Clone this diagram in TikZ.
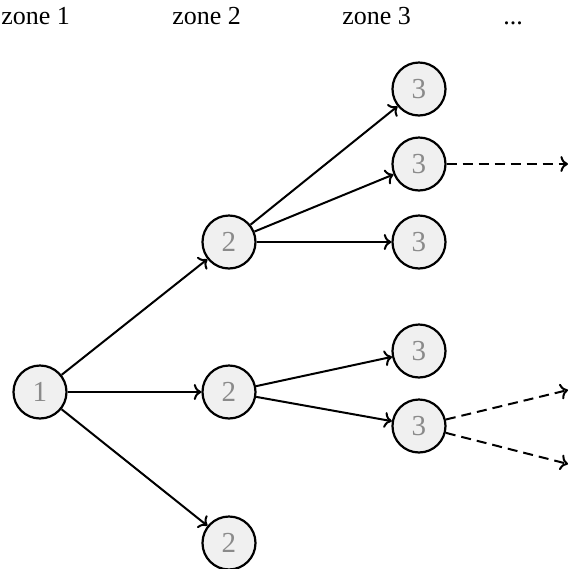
\documentclass[tikz,border=0pt]{standalone}
\usepackage{fontspec}
\setmainfont{Liberation Serif}
\usetikzlibrary{arrows.meta, positioning}

\definecolor{cellfill}{HTML}{F0F0F0}
\definecolor{celltext}{HTML}{8A8A8A}

\begin{document}
\begin{tikzpicture}[x=0.5pt, y=-0.5pt,
    on grid,
    >={To},
    every edge/.style={draw, line width=1pt},
    cell/.style={circle, draw, line width=1.1pt, fill=cellfill, text=celltext,
        minimum size=26.5pt, inner sep=0pt, font=\fontsize{14.5}{16}\selectfont},
    zonelabel/.style={anchor=base west, inner sep=0pt, font=\fontsize{13}{15}\selectfont}]

    \useasboundingbox (0,0) rectangle (580,569);

    % column headings
    \node[zonelabel] (h_1) at (1,24)   {zone 1};
    \node[zonelabel] (h_2) at (172,24) {zone 2};
    \node[zonelabel] (h_3) at (342,24) {zone 3};
    \node[zonelabel] (h_4) at (503,24) {...};

    \node[cell]  (z_1)                               at (40,392) {1};

    \node[cell]  (z_2a) [above right=75pt and 94.5pt of z_1]  {2};
    \node[cell]  (z_2b) [right=94.5pt of z_1]                 {2};
    \node[cell]  (z_2c) [below right=75.5pt and 94.5pt of z_1] {2};

    \node[cell]  (z_3a) [above right=76.5pt and 95pt of z_2a] {3};
    \node[cell]  (z_3b) [above right=39pt and 95pt of z_2a]   {3};
    \node[cell]  (z_3c) [right=95pt of z_2a]                  {3};
    \node[cell]  (z_3d) [above right=20.5pt and 95pt of z_2b] {3};
    \node[cell]  (z_3e) [below right=17pt and 95pt of z_2b]   {3};

    % loose ends of the dashed arrows
    \node[coordinate] (o_1) [right=74.5pt of z_3b] {};
    \node[coordinate] (o_2) [above right=18pt and 74.5pt of z_3e] {};
    \node[coordinate] (o_3) [below right=19pt and 74.5pt of z_3e] {};

    \path[->]
    (z_1)  edge (z_2a)
    (z_1)  edge (z_2b)
    (z_1)  edge (z_2c)
    (z_2a) edge (z_3a)
    (z_2a) edge (z_3b)
    (z_2a) edge (z_3c)
    (z_2b) edge (z_3d)
    (z_2b) edge (z_3e);

    \path[->, dash pattern=on 5pt off 3pt]
    (z_3b) edge (o_1)
    (z_3e) edge (o_2)
    (z_3e) edge (o_3);
\end{tikzpicture}
\end{document}
